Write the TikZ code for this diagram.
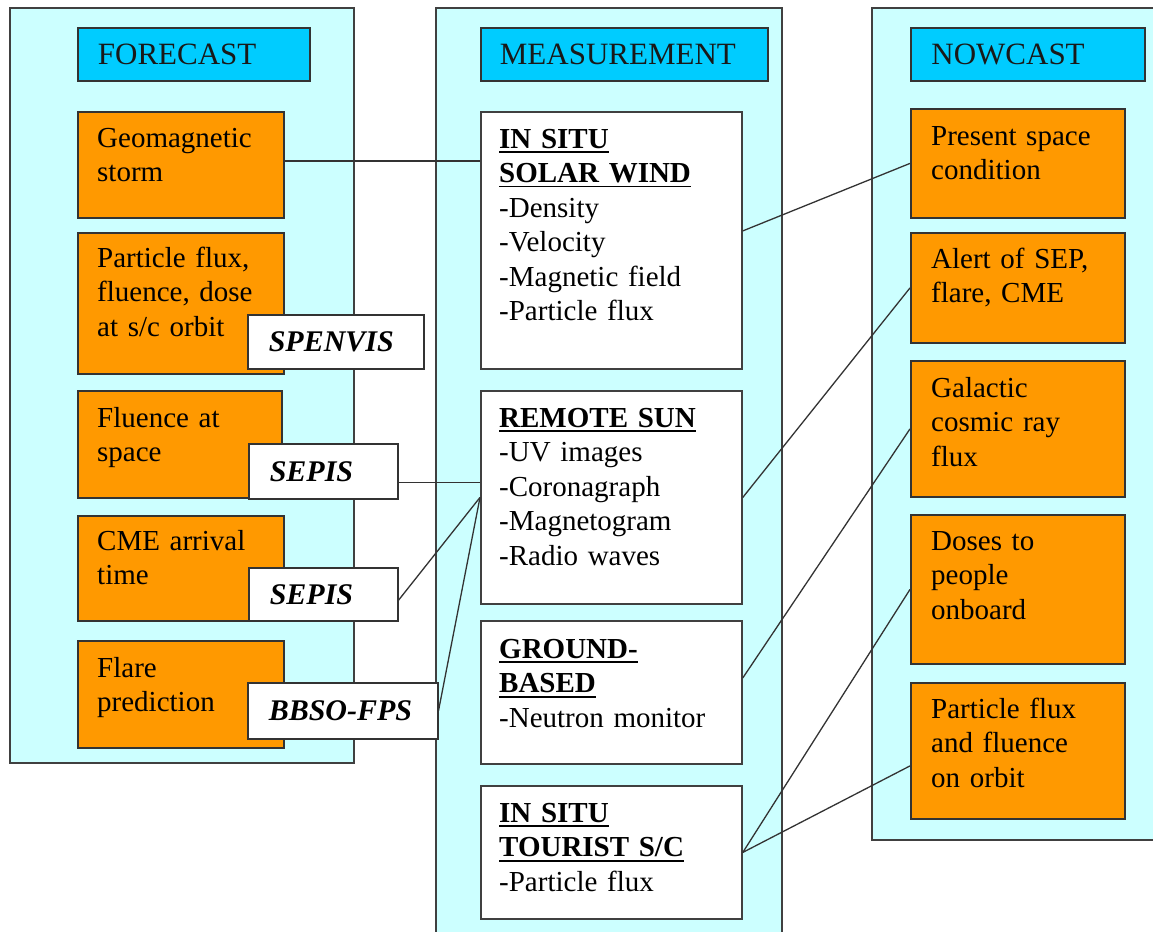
\documentclass[tikz,border=0pt]{standalone}
\usepackage{fontspec}
\setmainfont{Liberation Serif}

\definecolor{panelbg}{HTML}{CCFFFF}
\definecolor{headbg}{HTML}{00CCFF}
\definecolor{boxorange}{HTML}{FF9900}

\newcommand{\bodyfont}{\fontsize{29}{34.5}\selectfont}
\newcommand{\headfont}{\fontsize{31}{36}\selectfont}
\newcommand{\toolfont}{\fontsize{30}{36}\selectfont\bfseries\itshape}
\newsavebox{\ulbox}
\newcommand{\uln}[1]{\sbox\ulbox{\bfseries #1}\leavevmode\rlap{\rule[-5pt]{\wd\ulbox}{1.6pt}}\usebox\ulbox}

\tikzset{
  panel/.style={draw=black!75, line width=1.5pt, fill=panelbg},
  headbox/.style={draw=black!80, line width=1.8pt, fill=headbg, anchor=north west,
    inner xsep=20pt, align=left, font=\headfont, text=black!90},
  obox/.style={draw=black!80, line width=1.8pt, fill=boxorange, anchor=north west},
  wbox/.style={draw=black!75, line width=1.8pt, fill=white, anchor=north west},
  tool/.style={draw=black!80, line width=1.5pt, fill=white, anchor=north west,
    inner xsep=21pt, align=left, font=\toolfont},
  txt/.style={anchor=base west, inner sep=0pt, text width=235pt, align=left,
    font=\bodyfont, text=black},
  conn/.style={draw=black!80, line width=1.3pt}
}

\begin{document}
\begin{tikzpicture}[x=1pt, y=-1pt]
\clip (0,0) rectangle (1153,931);
\fill[white] (0,0) rectangle (1153,931);

% the three columns
\draw[panel] (10,8) rectangle (354,763);
\draw[panel] (436,8) rectangle (782,945);
\draw[panel] (872,8) rectangle (1165,840);

% forecast
\node[headbox, minimum height=53pt, text width=192pt] (fchead) at (77,27) {FORECAST};
\node[obox, minimum width=206pt, minimum height=106pt] (geo) at (77,111) {};
\node[txt] (geo-t) at ([shift={(20pt,-36pt)}]geo.north west) {Geomagnetic\\storm};
\node[obox, minimum width=206pt, minimum height=141pt] (pflux) at (77,232) {};
\node[txt] (pflux-t) at ([shift={(20pt,-35pt)}]pflux.north west) {Particle flux,\\fluence, dose\\at s/c orbit};
\node[obox, minimum width=204pt, minimum height=107pt] (flu) at (77,390) {};
\node[txt] (flu-t) at ([shift={(20pt,-37pt)}]flu.north west) {Fluence at\\space};
\node[obox, minimum width=206pt, minimum height=105pt] (cme) at (77,515) {};
\node[txt] (cme-t) at ([shift={(20pt,-35pt)}]cme.north west) {CME arrival\\time};
\node[obox, minimum width=206pt, minimum height=107pt] (flare) at (77,640) {};
\node[txt] (flare-t) at ([shift={(20pt,-37pt)}]flare.north west) {Flare\\prediction};

\node[tool, minimum height=54pt, text width=134pt] (spenvis) at (247,314) {SPENVIS};
\node[tool, minimum height=55pt, text width=107pt] (sepisA) at (248,443) {SEPIS};
\node[tool, minimum height=53pt, text width=107pt] (sepisB) at (248,567) {SEPIS};
\node[tool, minimum height=56pt, text width=148pt] (bbso) at (247,682) {BBSO-FPS};

% measurement
\node[headbox, minimum height=53pt, text width=249pt, inner xsep=19pt] (mshead) at (480,27) {MEASUREMENT};
\node[wbox, minimum width=261pt, minimum height=257pt] (sw) at (480,111) {};
\node[txt] (sw-t) at ([shift={(19pt,-37pt)}]sw.north west)
  {\uln{IN SITU}\\\uln{SOLAR WIND}\\-Density\\-Velocity\\-Magnetic field\\-Particle flux};
\node[wbox, minimum width=261pt, minimum height=213pt] (rs) at (480,390) {};
\node[txt] (rs-t) at ([shift={(19pt,-37pt)}]rs.north west)
  {\uln{REMOTE SUN}\\-UV images\\-Coronagraph\\-Magnetogram\\-Radio waves};
\node[wbox, minimum width=261pt, minimum height=143pt] (gb) at (480,620) {};
\node[txt] (gb-t) at ([shift={(19pt,-38pt)}]gb.north west)
  {\uln{GROUND-}\\\uln{BASED}\\-Neutron monitor};
\node[wbox, minimum width=261pt, minimum height=133pt] (ts) at (480,785) {};
\node[txt] (ts-t) at ([shift={(19pt,-37pt)}]ts.north west)
  {\uln{IN SITU}\\\uln{TOURIST S/C}\\-Particle flux};

% nowcast
\node[headbox, minimum height=53pt, text width=193pt, inner xsep=20.5pt] (nchead) at (910,27) {NOWCAST};
\node[obox, minimum width=214pt, minimum height=109pt] (psc) at (910,108) {};
\node[txt] (psc-t) at ([shift={(21pt,-37pt)}]psc.north west) {Present space\\condition};
\node[obox, minimum width=214pt, minimum height=110pt] (alert) at (910,232) {};
\node[txt] (alert-t) at ([shift={(21pt,-36pt)}]alert.north west) {Alert of SEP,\\flare, CME};
\node[obox, minimum width=214pt, minimum height=136pt] (gcr) at (910,360) {};
\node[txt] (gcr-t) at ([shift={(21pt,-37pt)}]gcr.north west) {Galactic\\cosmic ray\\flux};
\node[obox, minimum width=214pt, minimum height=149pt] (dose) at (910,514) {};
\node[txt] (dose-t) at ([shift={(21pt,-36pt)}]dose.north west) {Doses to\\people\\onboard};
\node[obox, minimum width=214pt, minimum height=136pt] (pfo) at (910,682) {};
\node[txt] (pfo-t) at ([shift={(21pt,-36pt)}]pfo.north west) {Particle flux\\and fluence\\on orbit};

% links
\coordinate (geo-o) at ([yshift=4pt]geo.east);
\draw[conn] (geo-o) -- (geo-o -| sw.west);
\draw[conn] ([yshift=9.5pt]sw.east) -- (psc.west);
\coordinate (sepA-o) at ([yshift=-11.5pt]sepisA.east);
\draw[conn] (sepA-o) -- (sepA-o -| rs.west);
\draw[conn] ([yshift=-6pt]sepisB.east) -- (rs.west);
\draw[conn] (bbso.east) -- (rs.west);
\draw[conn] (rs.east) -- (alert.west);
\draw[conn] ([yshift=14.5pt]gb.east) -- (gcr.west);
\draw[conn] (ts.east) -- (dose.west);
\draw[conn] (ts.east) -- ([yshift=-15pt]pfo.west);
\end{tikzpicture}
\end{document}
